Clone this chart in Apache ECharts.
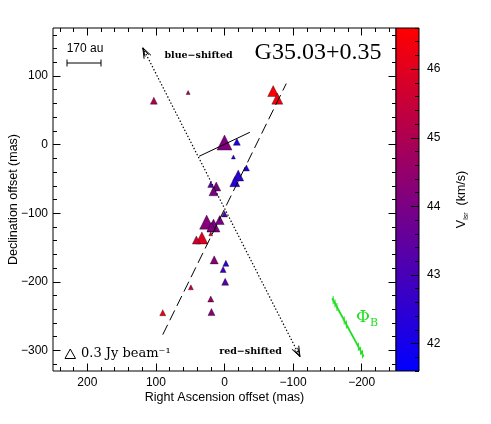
<!DOCTYPE html>
<html><head><meta charset="utf-8">
<script src="https://cdn.jsdelivr.net/npm/echarts@6/dist/echarts.min.js"></script>
<style>html,body{margin:0;padding:0;background:#fff}#c{width:491px;height:424px}</style>
</head><body><div id="c"></div>
<script>
// ---- data ----
const raOffset  = [103, 53, 0, -18, -13, -32, -20, -15, 20, 12, 16, 0, 26, 16, 7, 19, 20, 33, 41, 15, -2, 2, -1, 49, 20, 19, 90, -71, -77];
const decOffset = [64, 76, 3, 4, -18, -34, -45, -54, -58, -61, -68, -101, -113, -118, -110, -120, -130, -136, -139, -168, -173, -182, -200, -208, -225, -244, -245, 78, 67];
const vlsr      = [45.0, 45.0, 44.1, 42.1, 42.2, 42.3, 42.5, 42.4, 43.3, 44.0, 44.0, 43.2, 44.2, 44.1, 44.0, 44.1, 45.8, 46.0, 45.5, 44.3, 42.6, 42.9, 43.3, 45.6, 44.6, 44.3, 46.2, 46.5, 46.4];
const flux      = [0.12, 0.04, 0.56, 0.12, 0.04, 0.09, 0.30, 0.25, 0.09, 0.20, 0.20, 0.09, 0.49, 0.42, 0.20, 0.20, 0.04, 0.36, 0.16, 0.16, 0.09, 0.09, 0.12, 0.06, 0.09, 0.12, 0.09, 0.30, 0.30];

const jetAxis     = [[90, -277], [-90, 89]];
const outflowAxis = [[119, 141], [-110, -309]];
const diskLine    = [[37, -17], [-37, 18]];
const fieldDir    = [[-157, -224], [-203, -309]];

const xMajor = [-200, -100, 0, 100, 200];
const xMinor = [-240, -220, -180, -160, -140, -120, -80, -60, -40, -20, 20, 40, 60, 80, 120, 140, 160, 180, 220, 240];
const yMajor = [-300, -200, -100, 0, 100];
const yMinor = [-320, -280, -260, -240, -220, -180, -160, -140, -120, -80, -60, -40, -20, 20, 40, 60, 80, 120, 140, 160];
const cbMajor = [42, 43, 44, 45, 46];
const cbMinor = [41.6, 41.8, 42.2, 42.4, 42.6, 42.8, 43.2, 43.4, 43.6, 43.8, 44.2, 44.4, 44.6, 44.8, 45.2, 45.4, 45.6, 45.8, 46.2, 46.4, 46.6];
const xRange = [-250, 250], yRange = [-330, 170], vRange = [41.6, 46.6];
const refFlux = 0.3;

// ---- chart ----
const chart = echarts.init(document.getElementById('c'));
const SANS = 'Liberation Sans', SERIF = 'DejaVu Serif';
const fmt = v => v < 0 ? '\u2212' + (-v) : String(v);
const sizeOf = f => 11 * Math.sqrt(f / refFlux);

const hiddenLine = {show: false, onZero: false};
const xBase = {type: 'value', min: xRange[0], max: xRange[1], inverse: true, splitLine: {show: false}, axisLine: hiddenLine, z: 5};
const yBase = {type: 'value', min: yRange[0], max: yRange[1], splitLine: {show: false}, axisLine: hiddenLine, z: 5};
const tick = (vals, len) => ({show: true, inside: true, length: len, customValues: vals, lineStyle: {color: '#000', width: 1}});
const noLab = {show: false};

const G = {left: 53, top: 28, width: 343, height: 343, outerBoundsMode: 'none', containLabel: false};
const CB = {left: 396, top: 28, width: 23, height: 343, outerBoundsMode: 'none', containLabel: false};

const option = {
  animation: false,
  backgroundColor: '#fff',
  grid: [
    Object.assign({show: true, borderColor: '#000', borderWidth: 1, backgroundColor: 'transparent'}, G),
    Object.assign({show: false}, G),
    Object.assign({show: false}, CB),
    Object.assign({show: false}, CB)
  ],
  xAxis: [
    Object.assign({}, xBase, {gridIndex: 0, position: 'bottom', axisTick: tick(xMajor, 7.5),
      axisLabel: {customValues: xMajor, formatter: fmt, color: '#000', fontSize: 12, fontFamily: SANS, margin: 6},
      name: 'Right Ascension offset (mas)', nameLocation: 'middle', nameGap: 20, nameMoveOverlap: false,
      nameTextStyle: {color: '#000', fontSize: 12.5, fontFamily: SANS}}),
    Object.assign({}, xBase, {gridIndex: 0, position: 'top', axisTick: tick(xMajor, 7.5), axisLabel: noLab}),
    Object.assign({}, xBase, {gridIndex: 1, position: 'bottom', axisTick: tick(xMinor, 4), axisLabel: noLab}),
    Object.assign({}, xBase, {gridIndex: 1, position: 'top', axisTick: tick(xMinor, 4), axisLabel: noLab}),
    {type: 'value', gridIndex: 2, min: 0, max: 1, show: false},
    {type: 'value', gridIndex: 3, min: 0, max: 1, show: false}
  ],
  yAxis: [
    Object.assign({}, yBase, {gridIndex: 0, position: 'left', axisTick: tick(yMajor, 7.5),
      axisLabel: {customValues: yMajor, formatter: fmt, color: '#000', fontSize: 12, fontFamily: SANS, margin: 5},
      name: 'Declination offset (mas)', nameLocation: 'middle', nameGap: 33, nameMoveOverlap: false,
      nameTextStyle: {color: '#000', fontSize: 12.5, fontFamily: SANS}}),
    Object.assign({}, yBase, {gridIndex: 0, position: 'right', axisTick: tick(yMajor, 7.5), axisLabel: noLab}),
    Object.assign({}, yBase, {gridIndex: 1, position: 'left', axisTick: tick(yMinor, 4), axisLabel: noLab}),
    Object.assign({}, yBase, {gridIndex: 1, position: 'right', axisTick: tick(yMinor, 4), axisLabel: noLab}),
    {type: 'value', gridIndex: 2, min: vRange[0], max: vRange[1], position: 'right', z: 5,
      splitLine: {show: false}, axisLine: hiddenLine, axisTick: tick(cbMajor, 8),
      axisLabel: {customValues: cbMajor, color: '#000', fontSize: 12, fontFamily: SANS, margin: 8},
      name: '{a|V}{b|lsr}{a|  (km/s)}', nameLocation: 'middle', nameGap: 35, nameMoveOverlap: false,
      nameTextStyle: {color: '#000', fontFamily: SANS, rich: {
        a: {fontSize: 12.5, fontFamily: SANS, color: '#000', lineHeight: 16},
        b: {fontSize: 7, fontFamily: SANS, color: '#000', lineHeight: 16, verticalAlign: 'bottom'}}}},
    {type: 'value', gridIndex: 3, min: vRange[0], max: vRange[1], position: 'right', z: 5,
      splitLine: {show: false}, axisLine: hiddenLine, axisTick: tick(cbMinor, 4), axisLabel: noLab}
  ],
  visualMap: {
    type: 'continuous', show: false, min: vRange[0], max: vRange[1], dimension: 2, seriesIndex: 0,
    inRange: {color: ['#0000ff', '#ff0000']}
  },
  series: [
    {
      type: 'scatter', xAxisIndex: 0, yAxisIndex: 0, z: 2,
      symbol: 'triangle',
      symbolSize: v => sizeOf(v[3]),
      itemStyle: {opacity: 1, borderColor: 'rgba(0,0,0,0.7)', borderWidth: 0.5},
      data: raOffset.map((x, i) => [x, decOffset[i], vlsr[i], flux[i]])
    },
    {type: 'line', xAxisIndex: 0, yAxisIndex: 0, z: 3, symbol: 'none', silent: true, data: jetAxis,
      lineStyle: {color: '#000', width: 1, type: [11, 5]}},
    {type: 'line', xAxisIndex: 0, yAxisIndex: 0, z: 3, symbol: 'none', silent: true, data: outflowAxis,
      lineStyle: {color: '#000', width: 1.2, type: [1.4, 2]}},
    {type: 'line', xAxisIndex: 0, yAxisIndex: 0, z: 3, symbol: 'none', silent: true, data: diskLine,
      lineStyle: {color: '#000', width: 1}},
    {type: 'line', xAxisIndex: 0, yAxisIndex: 0, z: 3, symbol: 'none', silent: true, data: fieldDir,
      lineStyle: {color: '#1fe01f', width: 1.8}},
    {
      type: 'custom', xAxisIndex: 0, yAxisIndex: 0, z: 4, silent: true, data: [[0, 0]],
      renderItem: (params, api) => {
        const children = [];
        const a = api.coord(outflowAxis[0]), b = api.coord(outflowAxis[1]);
        const head = (tip, from) => {
          const dx = tip[0] - from[0], dy = tip[1] - from[1], L = Math.hypot(dx, dy);
          const ux = dx / L, uy = dy / L;
          [[11, 0.36], [9, 0.22]].forEach(([len, ang]) => {
            const w = s => [tip[0] - len * (ux * Math.cos(ang) - s * uy * Math.sin(ang)),
                            tip[1] - len * (uy * Math.cos(ang) + s * ux * Math.sin(ang))];
            children.push({type: 'polyline', shape: {points: [w(1), tip, w(-1)]},
              style: {stroke: '#000', fill: null, lineWidth: 1}});
          });
        };
        head(a, b); head(b, a);
        // magnetic field hatch marks
        const f0 = api.coord(fieldDir[0]), f1 = api.coord(fieldDir[1]);
        const dx = f1[0] - f0[0], dy = f1[1] - f0[1], L = Math.hypot(dx, dy);
        const ux = dx / L, uy = dy / L;
        [0.03, 0.09, 0.15, 0.38, 0.45, 0.83, 0.9, 0.96].forEach(t => {
          const cx = f0[0] + dx * t, cy = f0[1] + dy * t;
          const ang = 0.5, len = 4;
          const rx = ux * Math.cos(ang) - uy * Math.sin(ang), ry = uy * Math.cos(ang) + ux * Math.sin(ang);
          children.push({type: 'line', shape: {x1: cx - rx * len, y1: cy - ry * len, x2: cx + rx * len, y2: cy + ry * len},
            style: {stroke: '#1fe01f', lineWidth: 1}});
        });
        return {type: 'group', children};
      }
    },
    {
      type: 'custom', xAxisIndex: 4, yAxisIndex: 4, z: 1, silent: true, data: [[0, vRange[0]]],
      renderItem: (params, api) => {
        const p1 = api.coord([0, vRange[1]]), p0 = api.coord([1, vRange[0]]);
        const shape = {x: p1[0], y: p1[1], width: p0[0] - p1[0], height: p0[1] - p1[1]};
        return {type: 'group', children: [
          {type: 'rect', shape, style: {fill: new echarts.graphic.LinearGradient(0, 0, 0, 1,
            [{offset: 0, color: '#ff0000'}, {offset: 1, color: '#0000ff'}])}},
          {type: 'rect', shape, style: {fill: null, stroke: '#000', lineWidth: 1}}
        ]};
      }
    }
  ],
  graphic: [
    {type: 'text', x: 318, y: 53, style: {text: 'G35.03+0.35', font: '24px "Liberation Serif"', fill: '#000', align: 'center', verticalAlign: 'middle'}},
    {type: 'text', x: 198.5, y: 56, style: {text: 'blue\u2212shifted', font: 'bold 9.5px "DejaVu Serif"', fill: '#000', align: 'center', verticalAlign: 'middle'}},
    {type: 'text', x: 250.5, y: 352, style: {text: 'red\u2212shifted', font: 'bold 9.5px "DejaVu Serif"', fill: '#000', align: 'center', verticalAlign: 'middle'}},
    {type: 'text', x: 85, y: 49, style: {text: '170 au', font: '12px "Liberation Sans"', fill: '#000', align: 'center', verticalAlign: 'middle'}},
    {type: 'line', shape: {x1: 67, y1: 63, x2: 101, y2: 63}, style: {stroke: '#000', lineWidth: 1}},
    {type: 'line', shape: {x1: 67, y1: 59.5, x2: 67, y2: 66.5}, style: {stroke: '#000', lineWidth: 1}},
    {type: 'line', shape: {x1: 101, y1: 59.5, x2: 101, y2: 66.5}, style: {stroke: '#000', lineWidth: 1}},
    {type: 'polygon', shape: {points: [[65, 358.5], [75.5, 358.5], [70.25, 349]]}, style: {stroke: '#000', fill: null, lineWidth: 1}},
    {type: 'text', x: 81, y: 354, style: {text: '0.3 Jy beam\u207B\u00B9', font: '13px "DejaVu Serif"', fill: '#000', align: 'left', verticalAlign: 'middle'}},
    {type: 'text', x: 356, y: 318, style: {text: '{p|\u03A6}{s|B}', fill: '#1fe01f', align: 'left', verticalAlign: 'middle',
      rich: {p: {font: '17px "DejaVu Serif"', fill: '#1fe01f', lineHeight: 22}, s: {font: '11px "DejaVu Serif"', fill: '#1fe01f', lineHeight: 22, verticalAlign: 'bottom'}}}}
  ]
};
chart.setOption(option);
</script>
</body></html>
